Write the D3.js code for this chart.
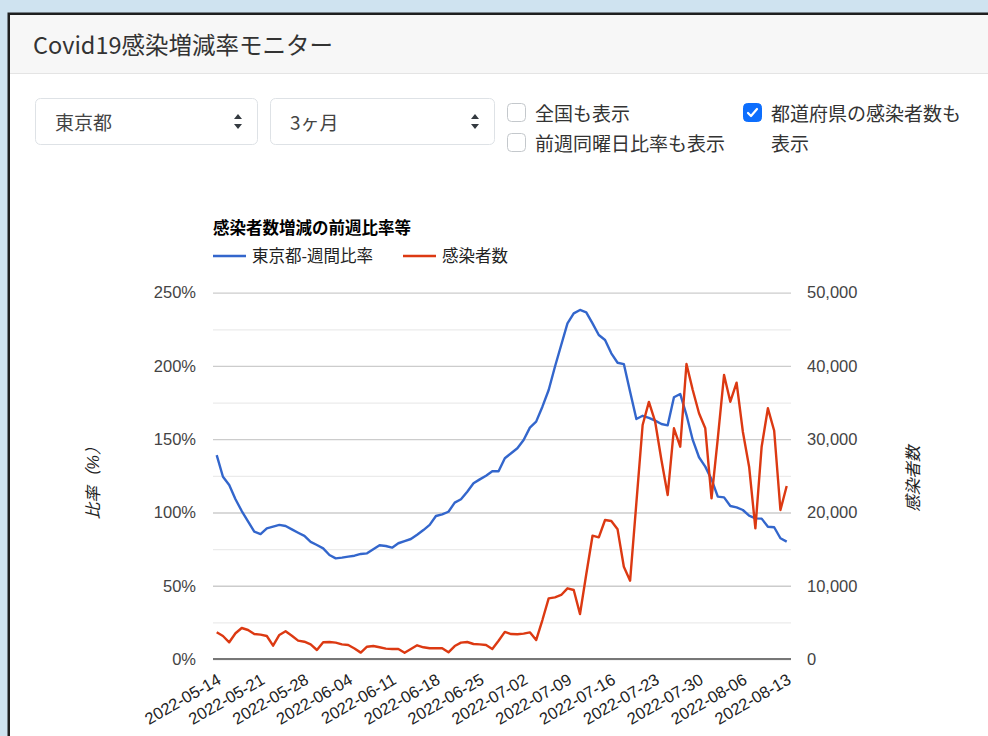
<!DOCTYPE html>
<html>
<head>
<meta charset="utf-8">
<script src="https://cdn.jsdelivr.net/npm/d3@7"></script>
<style>
  body { margin: 0; background: #cfe3f0; }
  svg { display: block; }
</style>
</head>
<body>
<script>
// データ（東京都・直近3ヶ月）
const startDate = "2022-05-14";
const endDate = "2022-08-13";
const tickLabels = ["2022-05-14", "2022-05-21", "2022-05-28", "2022-06-04", "2022-06-11", "2022-06-18",
  "2022-06-25", "2022-07-02", "2022-07-09", "2022-07-16", "2022-07-23", "2022-07-30", "2022-08-06", "2022-08-13"];
const ratioTicks = [0, 50, 100, 150, 200, 250];
const casesTicks = [0, 10000, 20000, 30000, 40000, 50000];
const seriesNames = ["東京都-週間比率", "感染者数"];

// 週間比率 (%)
const weeklyRatio = [139.2, 124.4, 118.7, 109, 101, 94, 87, 85.3, 89.2, 90.3, 91.5, 90.8, 88.5, 86.2, 84,
  79.9, 77.8, 75.5, 71, 68.7, 69.2, 69.9, 70.5, 71.7, 72.1, 74.9, 77.6, 77.1, 76, 79, 80.5, 81.9, 84.8,
  88, 91.5, 97.6, 98.7, 100.5, 106.7, 109, 114.2, 119.9, 122.6, 125.1, 128.1, 128.1, 137, 140.4, 143.8,
  149.5, 157.9, 162, 172.2, 183.6, 199.5, 214.3, 229.1, 235.9, 238.2, 236.6, 229.1, 221.1, 217.7, 208.6,
  202.2, 201.3, 182.4, 163.8, 166, 164.5, 162.7, 160.4, 159.5, 178.6, 180.9, 166.5, 149.5, 137.7, 131.3,
  122.6, 110.8, 110.3, 104.4, 103.5, 101.7, 97.8, 96, 95.8, 90.3, 89.9, 82.4, 80.1];

// 感染者数
const cases = [3650, 3140, 2280, 3510, 4230, 3960, 3410, 3320, 3140, 1820, 3280, 3780, 3180, 2500, 2360,
  2000, 1230, 2280, 2320, 2230, 2000, 1910, 1430, 870, 1680, 1770, 1600, 1410, 1370, 1370, 860, 1370,
  1870, 1600, 1460, 1460, 1460, 910, 1770, 2230, 2320, 2050, 2000, 1910, 1370, 2500, 3700, 3410, 3370,
  3460, 3640, 2590, 5320, 8280, 8420, 8740, 9650, 9420, 6140, 11560, 16830, 16610, 18970, 18840, 17700,
  12600, 10690, 21300, 31940, 35100, 32390, 27160, 22390, 31490, 28980, 40270, 36720, 33540, 31490,
  21940, 30120, 38770, 35120, 37720, 31030, 26250, 17840, 28980, 34220, 31160, 20340, 23610];

const parse = d3.timeParse("%Y-%m-%d");
const dates = d3.timeDay.range(parse(startDate), d3.timeDay.offset(parse(endDate), 1));

const W = 988, H = 736;
const chartFont = "Arial, 'Liberation Sans', 'Noto Sans CJK JP', sans-serif";
const uiFont = "'Noto Sans CJK JP', 'Noto Sans', sans-serif";

const svg = d3.select("body").append("svg")
    .attr("width", W)
    .attr("height", H);

// ページ背景とカード
svg.append("rect").attr("width", W).attr("height", H).attr("fill", "#cfe3f0");
svg.append("rect")
    .attr("x", 8.75).attr("y", 13.75)
    .attr("width", 1100).attr("height", 900)
    .attr("fill", "#fff")
    .attr("stroke", "#1f1f1f")
    .attr("stroke-width", 2.5);
svg.append("rect")
    .attr("x", 10).attr("y", 15)
    .attr("width", 1100).attr("height", 58)
    .attr("fill", "#f7f7f7");
svg.append("line")
    .attr("x1", 10).attr("x2", W)
    .attr("y1", 73.5).attr("y2", 73.5)
    .attr("stroke", "#e4e4e4");

svg.append("text")
    .attr("x", 33).attr("y", 44)
    .attr("dominant-baseline", "central")
    .style("font-family", uiFont)
    .style("font-size", "23.5px")
    .attr("fill", "#333")
    .text("Covid19感染増減率モニター");

// セレクトボックス
const selects = [{ x: 35, w: 222, label: "東京都" }, { x: 270, w: 224, label: "3ヶ月" }];
selects.forEach(s => {
    svg.append("rect")
        .attr("x", s.x + 0.5).attr("y", 98.5)
        .attr("width", s.w).attr("height", 46)
        .attr("rx", 5)
        .attr("fill", "#fff")
        .attr("stroke", "#dee2e6");
    svg.append("text")
        .attr("x", s.x + 20).attr("y", 121)
        .attr("dominant-baseline", "central")
        .style("font-family", uiFont)
        .style("font-size", "19px")
        .attr("fill", "#444")
        .text(s.label);
    const ax = s.x + s.w - 19;
    svg.append("path")
        .attr("d", `M${ax - 4},${119} L${ax},${114} L${ax + 4},${119} Z M${ax - 4},${124} L${ax},${129} L${ax + 4},${124} Z`)
        .attr("fill", "#343a40");
});

// チェックボックス
const checks = [
    { x: 507, y: 103, lines: ["全国も表示"], checked: false },
    { x: 507, y: 133, lines: ["前週同曜日比率も表示"], checked: false },
    { x: 743, y: 103, lines: ["都道府県の感染者数も", "表示"], checked: true }
];
checks.forEach(c => {
    svg.append("rect")
        .attr("x", c.x + 0.5).attr("y", c.y + 0.5)
        .attr("width", 18).attr("height", 18)
        .attr("rx", 4)
        .attr("fill", c.checked ? "#0d6efd" : "#fff")
        .attr("stroke", c.checked ? "#0d6efd" : "#c4c8cc");
    if (c.checked) {
        svg.append("path")
            .attr("d", `M${c.x + 5},${c.y + 10} L${c.x + 8},${c.y + 13} L${c.x + 14},${c.y + 6}`)
            .attr("fill", "none")
            .attr("stroke", "#fff")
            .attr("stroke-width", 2.2)
            .attr("stroke-linecap", "round")
            .attr("stroke-linejoin", "round");
    }
    c.lines.forEach((t, i) => {
        svg.append("text")
            .attr("x", c.x + 28).attr("y", c.y + 9 + i * 30)
            .attr("dominant-baseline", "central")
            .style("font-family", uiFont)
            .style("font-size", "19px")
            .attr("fill", "#333")
            .text(t);
    });
});

// グラフ
const plot = { left: 213, right: 791, top: 292.7, bottom: 659 };

const x = d3.scaleTime()
    .domain([parse(startDate), parse(endDate)])
    .range([216.7, 786.7]);
const yL = d3.scaleLinear().domain([0, 250]).range([plot.bottom, plot.top]);
const yR = d3.scaleLinear().domain([0, 50000]).range([plot.bottom, plot.top]);

// グリッド線
svg.append("g")
    .attr("transform", `translate(${plot.left},0)`)
    .call(d3.axisLeft(yL).tickValues(d3.range(0, 251, 25)).tickSize(-(plot.right - plot.left)).tickFormat(""))
    .call(g => g.select(".domain").remove())
    .call(g => g.selectAll(".tick line")
        .attr("stroke", d => d % 50 === 0 ? "#cccccc" : "#ebebeb")
        .attr("stroke-width", 1.3));

// 左軸
svg.append("g")
    .attr("transform", `translate(${plot.left},0)`)
    .call(d3.axisLeft(yL).tickValues(ratioTicks).tickSize(0).tickPadding(17).tickFormat(d => d + "%"))
    .call(g => g.select(".domain").remove())
    .call(g => g.selectAll("text")
        .style("font-family", chartFont)
        .style("font-size", "16.5px")
        .attr("fill", "#444"));

// 右軸
svg.append("g")
    .attr("transform", `translate(${plot.right},0)`)
    .call(d3.axisRight(yR).tickValues(casesTicks).tickSize(0).tickPadding(16).tickFormat(d3.format(",")))
    .call(g => g.select(".domain").remove())
    .call(g => g.selectAll("text")
        .style("font-family", chartFont)
        .style("font-size", "16.5px")
        .attr("fill", "#444"));

// 下軸
svg.append("g")
    .attr("transform", `translate(0,${plot.bottom})`)
    .call(d3.axisBottom(x).tickValues(tickLabels.map(parse)).tickSize(0).tickFormat(d3.timeFormat("%Y-%m-%d")))
    .call(g => g.select(".domain").remove())
    .call(g => g.selectAll("text")
        .attr("x", 0).attr("y", 0).attr("dy", "0.35em")
        .attr("transform", "translate(2,19) rotate(-30)")
        .style("text-anchor", "end")
        .style("font-family", chartFont)
        .style("font-size", "16.5px")
        .attr("fill", "#222"));

// 基準線
svg.append("line")
    .attr("x1", plot.left).attr("x2", plot.right)
    .attr("y1", yL(0)).attr("y2", yL(0))
    .attr("stroke", "#777")
    .attr("stroke-width", 2);

// 軸タイトル
svg.append("text")
    .attr("transform", `translate(93,${(plot.top + plot.bottom) / 2 + 3}) rotate(-90)`)
    .attr("text-anchor", "middle")
    .attr("dominant-baseline", "central")
    .style("font-family", chartFont)
    .style("font-size", "16.5px")
    .style("font-style", "italic")
    .attr("fill", "#222")
    .text("比率（%）");
svg.append("text")
    .attr("transform", `translate(913,${(plot.top + plot.bottom) / 2 + 3}) rotate(-90)`)
    .attr("text-anchor", "middle")
    .attr("dominant-baseline", "central")
    .style("font-family", chartFont)
    .style("font-size", "16.5px")
    .style("font-style", "italic")
    .attr("fill", "#222")
    .text("感染者数");

// 折れ線
const lineL = d3.line().x((d, i) => x(dates[i])).y(d => yL(d));
const lineR = d3.line().x((d, i) => x(dates[i])).y(d => yR(d));

svg.append("path")
    .datum(weeklyRatio)
    .attr("d", lineL)
    .attr("fill", "none")
    .attr("stroke", "#3366cc")
    .attr("stroke-width", 2.4)
    .attr("stroke-linejoin", "round");

svg.append("path")
    .datum(cases)
    .attr("d", lineR)
    .attr("fill", "none")
    .attr("stroke", "#dc3912")
    .attr("stroke-width", 2.4)
    .attr("stroke-linejoin", "round");

// タイトルと凡例
svg.append("text")
    .attr("x", 213).attr("y", 228)
    .attr("dominant-baseline", "central")
    .style("font-family", chartFont)
    .style("font-size", "16.5px")
    .style("font-weight", "bold")
    .attr("fill", "#000")
    .text("感染者数増減の前週比率等");

const legendColors = ["#3366cc", "#dc3912"];
const legendX = [213, 403];
seriesNames.forEach((name, i) => {
    svg.append("line")
        .attr("x1", legendX[i]).attr("x2", legendX[i] + 33)
        .attr("y1", 256).attr("y2", 256)
        .attr("stroke", legendColors[i])
        .attr("stroke-width", 2.4);
    svg.append("text")
        .attr("x", legendX[i] + 39).attr("y", 256)
        .attr("dominant-baseline", "central")
        .style("font-family", chartFont)
        .style("font-size", "16.5px")
        .attr("fill", "#222")
        .text(name);
});
</script>
</body>
</html>
